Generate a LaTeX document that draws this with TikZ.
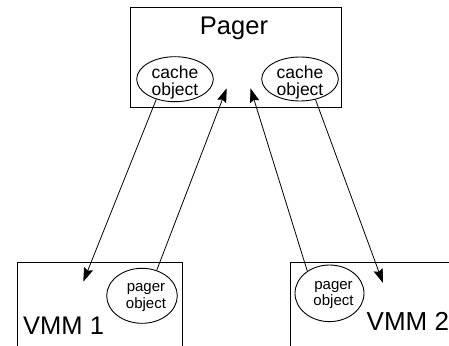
\documentclass[tikz,border=0pt]{standalone}
\usepackage{fontspec}
\setmainfont{Liberation Sans}
\usetikzlibrary{shapes.geometric,arrows.meta}
\tikzset{
  box/.style={draw, line width=0.9pt, inner sep=0pt},
  obj/.style={draw, ellipse, line width=0.9pt, inner sep=0pt},
  bigtext/.style={inner sep=0pt, font=\fontsize{25.5}{30}\selectfont},
  cachetext/.style={inner sep=0pt, align=center, font=\fontsize{17.5}{17.4}\selectfont},
  pagertext/.style={inner sep=0pt, align=center, font=\fontsize{15}{16.5}\selectfont},
  conn/.style={line width=0.8pt, -{Stealth[length=14pt,width=9.5pt,inset=2pt]}}
}
\begin{document}
\begin{tikzpicture}[x=1pt,y=-1pt]
\useasboundingbox (0,0) rectangle (449,345);
\clip (0,0) rectangle (449,345);
% boxes
\node[box, minimum width=211.7pt, minimum height=100pt] (pager) at (235.85,57) {};
\node[box, minimum width=165pt, minimum height=108pt] (vmm1) at (99.5,316) {};
\node[box, minimum width=180pt, minimum height=108pt] (vmm2) at (380,316) {};
% titles
\node[bigtext, anchor=base] (pagerlabel) at (234,35) {Pager};
\node[bigtext, anchor=base west] (vmm1label) at (23,334) {VMM 1};
\node[bigtext, anchor=base west, font=\fontsize{26}{30}\selectfont] (vmm2label) at (366.5,330.7) {VMM 2};
% objects
\node[obj, minimum width=76.6pt, minimum height=45pt,
      label={[cachetext, yshift=-3.5pt]center:cache\\object}] (cacheL) at (175,79.2) {};
\node[obj, minimum width=76.6pt, minimum height=44pt,
      label={[cachetext, yshift=-3.5pt]center:cache\\object}] (cacheR) at (300,79) {};
\node[obj, minimum width=70.6pt, minimum height=55pt,
      label={[pagertext, xshift=4pt, yshift=-1.5pt]center:pager\\object}] (pobj1) at (142,295.8) {};
\node[obj, minimum width=69pt, minimum height=56.6pt,
      label={[pagertext, xshift=4pt, yshift=-1.5pt]center:pager\\object}] (pobj2) at (329.5,293.3) {};
% arrow tips
\coordinate (tip1) at (83.3,281.7);
\coordinate (tip2) at (226.7,88.3);
\coordinate (tip3) at (250.5,88.3);
\coordinate (tip4) at (383,283);
% connectors
\draw[conn] (cacheL.227) -- (tip1);
\draw[conn] (pobj1.60) -- (tip2);
\draw[conn] (pobj2.135) -- (tip3);
\draw[conn] (cacheR.307) -- (tip4);
\end{tikzpicture}
\end{document}
